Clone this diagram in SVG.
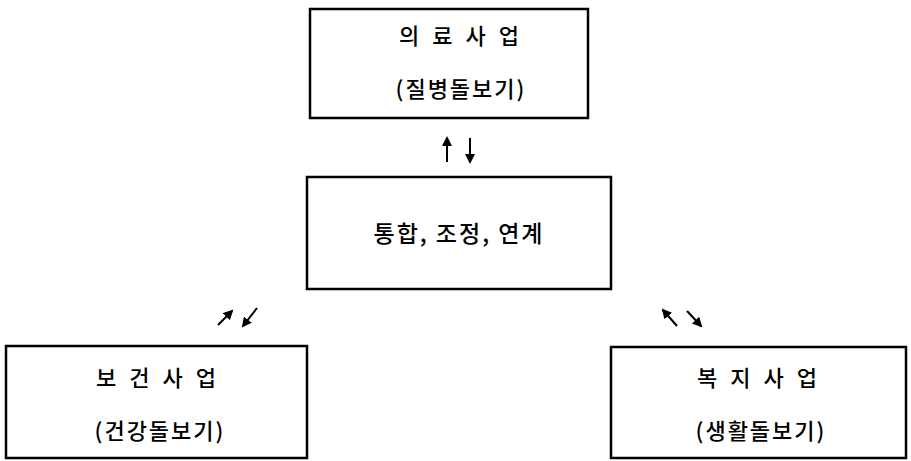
<svg xmlns="http://www.w3.org/2000/svg" width="911" height="461" viewBox="0 0 911 461">
<defs>
<marker id="ah" viewBox="0 0 10 10" refX="8" refY="5" markerWidth="5" markerHeight="5" orient="auto">
<path d="M0,0 L10,5 L0,10 z" fill="#000"/>
</marker>
<style>
.box{fill:#fff;stroke:#000;stroke-width:2.5}
.t{font-family:"Noto Sans CJK KR",sans-serif;fill:#000;text-anchor:middle;font-weight:500}
.big{font-size:22px;letter-spacing:4px}
.mid{font-size:23px;letter-spacing:2px}
.sm{font-size:22px;letter-spacing:2px}
.arr{stroke:#000;stroke-width:2;fill:none;marker-end:url(#ah)}
</style>
</defs>
<rect width="911" height="461" fill="#fff"/>
<g id="medical">
<rect class="box" x="310" y="9" width="278" height="109"/>
<text class="t big" x="461" y="44">의 료 사 업</text>
<text class="t sm" x="461" y="97">(질병돌보기)</text>
</g>
<g id="integration">
<rect class="box" x="307" y="177" width="304" height="112"/>
<text class="t mid" x="459" y="242">통합, 조정, 연계</text>
</g>
<g id="health">
<rect class="box" x="6" y="346" width="301" height="112"/>
<text class="t big" x="158" y="386">보 건 사 업</text>
<text class="t sm" x="160" y="439">(건강돌보기)</text>
</g>
<g id="welfare">
<rect class="box" x="611" y="347" width="295" height="111"/>
<text class="t big" x="759" y="386">복 지 사 업</text>
<text class="t sm" x="761" y="439">(생활돌보기)</text>
</g>
<g id="connectors">
<line class="arr" x1="447" y1="162" x2="447" y2="138"/>
<line class="arr" x1="470" y1="138" x2="470" y2="162"/>
<line class="arr" x1="218" y1="325" x2="232" y2="311"/>
<line class="arr" x1="257" y1="308" x2="243" y2="326"/>
<line class="arr" x1="677" y1="326" x2="663" y2="310"/>
<line class="arr" x1="687" y1="311" x2="701" y2="326"/>
</g>
</svg>
